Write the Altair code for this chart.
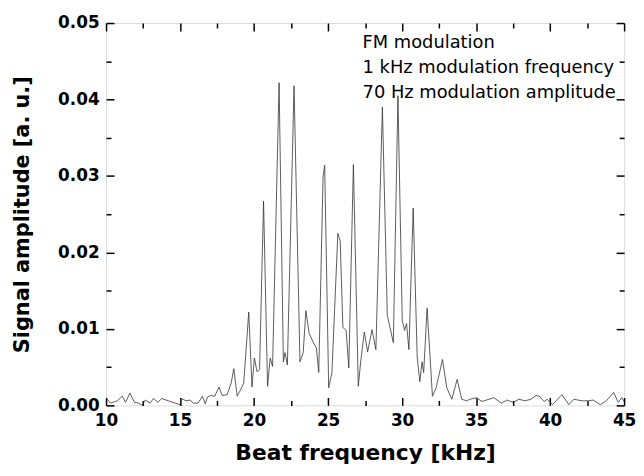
import altair as alt
import pandas as pd

freq_khz = [
    10.0, 10.3, 10.76, 11.09, 11.32, 11.61, 11.92, 12.2, 12.43, 12.65, 12.98, 13.2, 13.5, 13.76,
    14.21, 14.66, 15.0, 15.1, 15.4, 15.67, 15.89, 16.22, 16.51, 16.7, 16.85, 17.07, 17.34, 17.63,
    17.85, 18.18, 18.45, 18.63, 18.86, 19.08, 19.3, 19.64, 19.86, 20.02, 20.2, 20.37, 20.64, 20.91,
    21.09, 21.25, 21.69, 21.98, 22.09, 22.25, 22.7, 23.1, 23.32, 23.5, 23.72, 23.99, 24.21, 24.37,
    24.66, 24.77, 25.04, 25.26, 25.66, 25.82, 26.0, 26.22, 26.4, 26.71, 27.04, 27.22, 27.45, 27.67,
    27.97, 28.23, 28.67, 29.0, 29.18, 29.41, 29.72, 30.01, 30.17, 30.3, 30.46, 30.75, 31.02, 31.2,
    31.35, 31.46, 31.69, 32.05, 32.3, 32.73, 33.02, 33.36, 33.72, 34.03, 34.36, 34.58, 35.03, 35.4,
    35.7, 36.2, 36.7, 37.1, 37.5, 37.9, 38.3, 38.7, 39.05, 39.27, 39.6, 39.8, 40.16, 40.5, 40.8,
    41.27, 41.6, 42.17, 42.6, 42.9, 43.4, 43.8, 44.3, 44.6, 44.85, 45.0,
]
amplitude = [
    0.0010, 0.0003, 0.0006, 0.0012, 0.0004, 0.0016, 0.0004, 0.0003, 0.0000, 0.0007, 0.0003, 0.0009, 0.0004, 0.0009,
    0.0006, 0.0003, 0.0001, 0.0009, 0.0006, 0.0007, 0.0003, 0.0003, 0.0012, 0.0002, 0.0011, 0.0013, 0.0012, 0.0024,
    0.0013, 0.0014, 0.0029, 0.0048, 0.0012, 0.0020, 0.0029, 0.0122, 0.0024, 0.0062, 0.0044, 0.0047, 0.0267, 0.0025,
    0.0062, 0.0051, 0.0422, 0.0057, 0.0069, 0.0053, 0.0418, 0.0057, 0.0069, 0.0124, 0.0094, 0.0083, 0.0075, 0.0043,
    0.0299, 0.0314, 0.0023, 0.0043, 0.0225, 0.0215, 0.0102, 0.0098, 0.0049, 0.0315, 0.0025, 0.0060, 0.0096, 0.0070,
    0.0099, 0.0073, 0.0390, 0.0118, 0.0102, 0.0082, 0.0405, 0.0111, 0.0098, 0.0107, 0.0073, 0.0258, 0.0063, 0.0031,
    0.0057, 0.0043, 0.0127, 0.0012, 0.0023, 0.0060, 0.0023, 0.0008, 0.0034, 0.0008, 0.0006, 0.0008, 0.0010, 0.0005,
    0.0007, 0.0010, 0.0003, 0.0007, 0.0004, 0.0008, 0.0006, 0.0008, 0.0013, 0.0012, 0.0005, 0.0008, 0.0001, 0.0008, 0.0014,
    0.0001, 0.0008, 0.0006, 0.0006, 0.0007, 0.0001, 0.0006, 0.0017, 0.0004, 0.0010, 0.0005,
]

note_lines = ["FM modulation", "1 kHz modulation frequency", "70 Hz modulation amplitude"]
note_x = [27.33, 27.33, 27.33]
note_y = [0.0468, 0.0435, 0.0402]

x_major = [10, 15, 20, 25, 30, 35, 40, 45]
x_minor = [12.5, 17.5, 22.5, 27.5, 32.5, 37.5, 42.5]
y_major = [0.0, 0.01, 0.02, 0.03, 0.04, 0.05]
y_minor = [0.005, 0.015, 0.025, 0.035, 0.045]

df = pd.DataFrame({"f": freq_khz, "a": amplitude})
notes = pd.DataFrame({"x": note_x, "y": note_y, "t": note_lines})

LFONT = "DejaVu Sans"
xs = alt.Scale(domain=[10, 45], nice=False, zero=False)
ys = alt.Scale(domain=[0, 0.05], nice=False, zero=False)

MAJ, MIN = 8, 5
tick_style = dict(domain=False, grid=False, tickColor="black", tickWidth=1.5)


def bare_axis(orient, values, size):
    return alt.Axis(orient=orient, values=values, title=None, labels=False,
                    tickSize=size, offset=-size, **tick_style)


x_bottom = alt.Axis(
    orient="bottom", values=x_major, title="Beat frequency [kHz]", format="d",
    tickSize=MAJ, offset=-MAJ, labelFlush=False, labelOverlap=False,
    labelFont=LFONT, labelFontSize=17, labelFontWeight="bold", labelColor="black", labelPadding=7,
    titleFont=LFONT, titleFontSize=22, titleFontWeight="bold", titleColor="black", titlePadding=15,
    **tick_style,
)
y_left = alt.Axis(
    orient="left", values=y_major, title="Signal amplitude [a. u.]", format=".2f",
    tickSize=MAJ, offset=-MAJ, labelFlush=False, labelOverlap=False,
    labelFont=LFONT, labelFontSize=17, labelFontWeight="bold", labelColor="black", labelPadding=7,
    titleFont=LFONT, titleFontSize=21, titleFontWeight="bold", titleColor="black", titlePadding=25,
    **tick_style,
)

line = alt.Chart(df).mark_line(color="#333333", strokeWidth=0.8, clip=True).encode(
    x=alt.X("f:Q", scale=xs, axis=x_bottom),
    y=alt.Y("a:Q", scale=ys, axis=y_left),
    order="f:Q",
)

text = alt.Chart(notes).mark_text(
    align="left", baseline="alphabetic", font=LFONT, fontSize=18, color="black"
).encode(
    x=alt.X("x:Q", scale=xs, axis=bare_axis("top", x_major, MAJ)),
    y=alt.Y("y:Q", scale=ys, axis=bare_axis("right", y_major, MAJ)),
    text="t:N",
)

minor_a = alt.Chart(df).mark_line(opacity=0).encode(
    x=alt.X("f:Q", scale=xs, axis=bare_axis("bottom", x_minor, MIN)),
    y=alt.Y("a:Q", scale=ys, axis=bare_axis("left", y_minor, MIN)),
)
minor_b = alt.Chart(df).mark_line(opacity=0).encode(
    x=alt.X("f:Q", scale=xs, axis=bare_axis("top", x_minor, MIN)),
    y=alt.Y("a:Q", scale=ys, axis=bare_axis("right", y_minor, MIN)),
)

chart = alt.layer(line, text, minor_a, minor_b).resolve_axis(
    x="independent", y="independent"
).properties(
    width=523, height=386,
    padding={"left": 4, "top": 4, "right": 0, "bottom": 0},
).configure_view(stroke="black", strokeWidth=1.5).configure(background="white")

chart.save("out.html", embed_options={"renderer": "svg", "actions": False})
